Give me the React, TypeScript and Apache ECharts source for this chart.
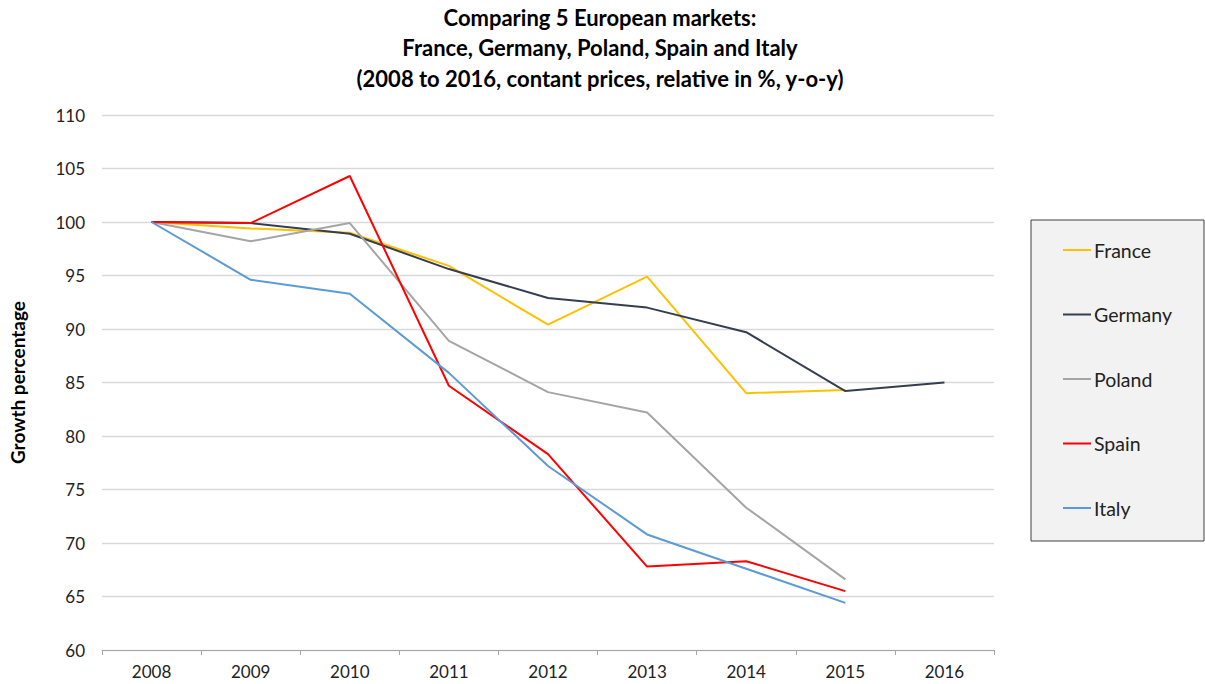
import React, { useEffect, useRef } from "react";
import * as echarts from "echarts";

const years = ["2008", "2009", "2010", "2011", "2012", "2013", "2014", "2015", "2016"];
const france = [100, 99.4, 99.0, 95.9, 90.4, 94.9, 84.0, 84.3, null];
const germany = [100, 99.9, 98.9, 95.6, 92.9, 92.0, 89.7, 84.2, 85.0];
const poland = [100, 98.2, 99.9, 88.9, 84.1, 82.2, 73.3, 66.6, null];
const spain = [100, 99.9, 104.3, 84.7, 78.3, 67.8, 68.3, 65.5, null];
const italy = [100, 94.6, 93.3, 85.9, 77.2, 70.8, 67.6, 64.4, null];

const seriesNames = ["France", "Germany", "Poland", "Spain", "Italy"];
const seriesData = [france, germany, poland, spain, italy];
const colors = ["#ffc000", "#333f50", "#a5a5a5", "#ff0000", "#5b9bd5"];

const FONT = "Lato";

export default function App() {
  const ref = useRef<HTMLDivElement>(null);
  useEffect(() => {
    if (!ref.current) return;
    const chart = echarts.init(ref.current, null, { renderer: "svg" });
    chart.setOption({
      animation: false,
      textStyle: { fontFamily: FONT },
      title: {
        text: "Comparing 5 European markets:\nFrance, Germany, Poland, Spain and Italy\n(2008 to 2016, contant prices, relative in %, y-o-y)",
        left: 595,
        top: -3,
        textAlign: "center",
        textStyle: { fontFamily: FONT, fontWeight: "bold", fontSize: 22, lineHeight: 30.5, color: "#000" },
      },
      graphic: [
        {
          type: "rect",
          shape: { x: 1031, y: 220, width: 173, height: 321 },
          style: { fill: "#f2f2f2", stroke: "#404040", lineWidth: 1 },
          z: 0,
        },
      ],
      legend: {
        orient: "vertical",
        left: 1058,
        top: 235,
        itemGap: 44.5,
        itemWidth: 28,
        itemHeight: 2,
        icon: "rect",
        textStyle: { fontFamily: FONT, fontSize: 19.5, color: "#222", padding: [0, 0, 0, -2] },
        data: seriesNames,
        z: 5,
      },
      grid: { left: 100, right: 211, top: 115, bottom: 34, containLabel: false },
      xAxis: {
        type: "category",
        data: years,
        boundaryGap: true,
        axisLine: { lineStyle: { color: "#a6a6a6", width: 1 } },
        axisTick: { show: true, length: 5, lineStyle: { color: "#a6a6a6" } },
        axisLabel: { fontFamily: FONT, fontSize: 17, color: "#222", margin: 13 },
      },
      yAxis: {
        type: "value",
        min: 60,
        max: 110,
        interval: 5,
        name: "Growth percentage",
        nameLocation: "middle",
        nameGap: 75,
        nameTextStyle: { fontFamily: FONT, fontWeight: "bold", fontSize: 19, color: "#000" },
        axisLine: { show: false },
        axisTick: { show: false },
        splitLine: { lineStyle: { color: "#d9d9d9", width: 1.3 } },
        axisLabel: { fontFamily: FONT, fontSize: 17, color: "#222", margin: 17 },
      },
      series: seriesNames.map((n, i) => ({
        name: n,
        type: "line",
        data: seriesData[i],
        showSymbol: false,
        symbol: "none",
        lineStyle: { color: colors[i], width: 2 },
        itemStyle: { color: colors[i] },
        connectNulls: false,
      })),
    });
    return () => chart.dispose();
  }, []);
  return <div ref={ref} style={{ position: "fixed", left: 0, top: 0, width: 1205, height: 684, background: "#fff" }} />;
}
